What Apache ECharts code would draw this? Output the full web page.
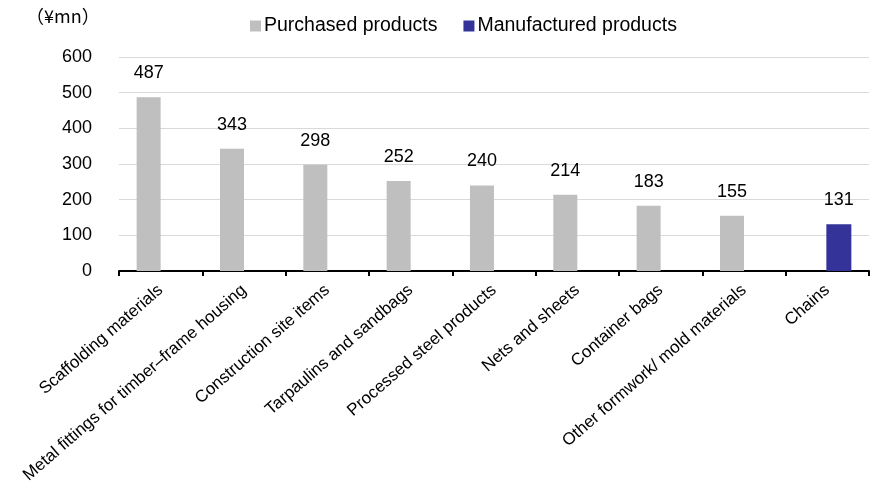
<!DOCTYPE html>
<html>
<head>
<meta charset="utf-8">
<script src="https://cdn.jsdelivr.net/npm/echarts@6/dist/echarts.min.js"></script>
<style>
  html, body { margin: 0; padding: 0; background: #fff; }
  #chart { width: 874px; height: 494px; }
</style>
</head>
<body>
<div id="chart"></div>
<script>
// Sales by product category (¥ million)
const categories = [
  'Scaffolding materials',
  'Metal fittings for timber–frame housing',
  'Construction site items',
  'Tarpaulins and sandbags',
  'Processed steel products',
  'Nets and sheets',
  'Container bags',
  'Other formwork/ mold materials',
  'Chains'
];
const purchasedValues = [487, 343, 298, 252, 240, 214, 183, 155, null];
const manufacturedValues = [null, null, null, null, null, null, null, null, 131];
const yTicks = [0, 100, 200, 300, 400, 500, 600];

const FONT = '"Liberation Sans", Arial, sans-serif';

const valueLabel = {
  show: true,
  position: 'top',
  distance: 15,
  fontSize: 18,
  color: '#000',
  fontFamily: FONT
};

const chart = echarts.init(document.getElementById('chart'));
chart.setOption({
  animation: false,
  textStyle: { fontFamily: FONT },
  grid: { left: 119, right: 5, top: 57, bottom: 223, containLabel: false },
  legend: {
    top: 11,
    left: 245,
    itemWidth: 11,
    itemHeight: 11,
    itemGap: 26,
    icon: 'rect',
    textStyle: { fontSize: 19.5, color: '#000', fontFamily: FONT, padding: [0, 0, 0, -2] },
    data: ['Purchased products', 'Manufactured products']
  },
  graphic: [{
    type: 'text',
    left: 26,
    top: 7,
    style: { text: '（¥mn）', fontSize: 18, fill: '#000', fontFamily: '"Noto Sans CJK JP", sans-serif' }
  }],
  xAxis: {
    type: 'category',
    data: categories,
    axisLine: { lineStyle: { color: '#000', width: 2 } },
    axisTick: { show: true, length: 5, lineStyle: { color: '#000', width: 2 } },
    axisLabel: {
      rotate: 41,
      interval: 0,
      margin: 17,
      fontSize: 17,
      color: '#000',
      fontFamily: FONT
    }
  },
  yAxis: {
    type: 'value',
    min: yTicks[0],
    max: yTicks[yTicks.length - 1],
    interval: 100,
    axisLine: { show: false },
    axisTick: { show: false },
    splitLine: { lineStyle: { color: '#d9d9d9', width: 1 } },
    axisLabel: { fontSize: 18, color: '#000', margin: 27, fontFamily: FONT }
  },
  series: [
    {
      name: 'Purchased products',
      type: 'bar',
      data: purchasedValues,
      barWidth: 24,
      barGap: '-4%',
      itemStyle: { color: '#bfbfbf' },
      label: valueLabel
    },
    {
      name: 'Manufactured products',
      type: 'bar',
      data: manufacturedValues,
      barWidth: 25,
      itemStyle: { color: '#333399' },
      label: valueLabel
    }
  ]
});
</script>
</body>
</html>
